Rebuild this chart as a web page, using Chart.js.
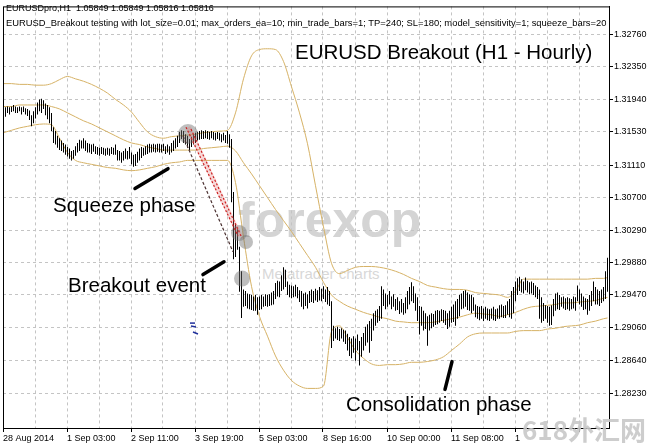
<!DOCTYPE html>
<html><head><meta charset="utf-8">
<script src="https://cdn.jsdelivr.net/npm/chart.js@4.4.0/dist/chart.umd.min.js"></script>
<style>
html,body{margin:0;padding:0;background:#fff;}
#wrap{position:relative;width:648px;height:445px;overflow:hidden;background:#fff;}
#c{position:absolute;left:0;top:0;z-index:1;}
.t{position:absolute;white-space:nowrap;font-family:"Liberation Sans",Arial,sans-serif;line-height:1;z-index:2;color:#000;}
.wm{position:absolute;white-space:nowrap;line-height:1;z-index:0;}
</style></head><body>
<div id="wrap">
<div class="wm" style="left:238px;top:191px;font:bold 50px 'Liberation Sans',Arial,sans-serif;color:#d4d4d4;">forexop</div>
<div class="wm" style="left:262px;top:265px;font:15px 'Liberation Sans',Arial,sans-serif;color:#d8d8d8;">Metatrader charts</div>
<canvas id="c" width="648" height="445"></canvas>
<div class="t" style="left:6px;top:4px;font-size:9px;">EURUSDpro,H1&nbsp; 1.05849 1.05849 1.05816 1.05816</div>
<div class="t" style="left:6px;top:16.5px;font-size:9.4px;line-height:1.3;width:602px;overflow:hidden;">EURUSD_Breakout testing with lot_size=0.01; max_orders_ea=10; min_trade_bars=1; TP=240; SL=180; model_sensitivity=1; squeeze_bars=20</div>
<div class="t" style="left:295px;top:42px;font-size:20.5px;">EURUSD Breakout (H1 - Hourly)</div>
<div class="t" style="left:53px;top:195px;font-size:20.5px;">Squeeze phase</div>
<div class="t" style="left:68px;top:275px;font-size:20.5px;">Breakout event</div>
<div class="t" style="left:346px;top:394px;font-size:20.5px;">Consolidation phase</div>
<div class="wm" style="left:522px;top:410px;font:bold 26px 'Noto Sans CJK SC',sans-serif;color:rgba(200,200,200,0.9);z-index:3;">618外汇网</div>
</div>
<script>
// ---- data (EURUSD H1, 28 Aug - 12 Sep 2014) ----
const xLabels = ["28 Aug 2014","1 Sep 03:00","2 Sep 11:00","3 Sep 19:00","5 Sep 03:00","8 Sep 16:00","10 Sep 00:00","11 Sep 08:00","1"];
const yTicks = [1.32760,1.32350,1.31940,1.31530,1.31110,1.30700,1.30290,1.29880,1.29470,1.29060,1.28640,1.28230];

const highs = [
1.3180,1.3184,1.3185,1.3184,1.3185,1.3187,1.3185,1.3184,1.3185,1.3184,
1.3185,1.3183,1.3182,1.3180,1.3174,1.3179,1.3184,1.3190,1.3194,1.3195,
1.3193,1.3189,1.3187,1.3184,1.3177,1.3159,1.3154,1.3148,1.3145,1.3142,
1.3139,1.3137,1.3134,1.3132,1.3129,1.3130,1.3135,1.3139,1.3143,1.3142,
1.3145,1.3142,1.3139,1.3138,1.3137,1.3138,1.3135,1.3134,1.3133,1.3134,
1.3133,1.3132,1.3133,1.3132,1.3134,1.3133,1.3137,1.3130,1.3129,1.3127,
1.3129,1.3132,1.3129,1.3134,1.3127,1.3124,1.3125,1.3128,1.3132,1.3134,
1.3133,1.3135,1.3137,1.3138,1.3137,1.3138,1.3137,1.3138,1.3138,1.3137,
1.3138,1.3135,1.3137,1.3135,1.3139,1.3142,1.3145,1.3148,1.3153,1.3155,
1.3154,1.3150,1.3148,1.3144,1.3147,1.3150,1.3152,1.3153,1.3154,1.3155,
1.3154,1.3155,1.3154,1.3153,1.3154,1.3153,1.3152,1.3153,1.3152,1.3150,
1.3152,1.3149,1.3154,1.3150,1.3144,1.3077,1.3037,1.3030,1.3008,1.2977,
1.2954,1.2952,1.2949,1.2948,1.2947,1.2945,1.2947,1.2944,1.2945,1.2947,
1.2945,1.2948,1.2947,1.2948,1.2950,1.2952,1.2962,1.2965,1.2964,1.2972,
1.2982,1.2979,1.2964,1.2960,1.2959,1.2958,1.2960,1.2957,1.2953,1.2952,
1.2949,1.2950,1.2948,1.2952,1.2954,1.2952,1.2955,1.2953,1.2957,1.2955,
1.2958,1.2954,1.2957,1.2952,1.2939,1.2908,1.2905,1.2907,1.2904,1.2905,
1.2903,1.2902,1.2898,1.2894,1.2892,1.2895,1.2892,1.2897,1.2889,1.2894,
1.2899,1.2907,1.2910,1.2914,1.2917,1.2924,1.2927,1.2929,1.2933,1.2958,
1.2954,1.2949,1.2947,1.2952,1.2945,1.2948,1.2942,1.2944,1.2939,1.2942,
1.2937,1.2944,1.2952,1.2957,1.2963,1.2958,1.2949,1.2944,1.2933,1.2932,
1.2927,1.2924,1.2920,1.2922,1.2924,1.2923,1.2927,1.2928,1.2927,1.2929,
1.2928,1.2927,1.2924,1.2927,1.2932,1.2935,1.2939,1.2942,1.2947,1.2949,
1.2952,1.2953,1.2950,1.2948,1.2947,1.2944,1.2935,1.2933,1.2932,1.2933,
1.2930,1.2932,1.2930,1.2929,1.2930,1.2932,1.2929,1.2930,1.2934,1.2935,
1.2933,1.2934,1.2939,1.2942,1.2952,1.2957,1.2964,1.2968,1.2970,1.2967,
1.2964,1.2969,1.2965,1.2963,1.2964,1.2962,1.2959,1.2957,1.2954,1.2944,
1.2937,1.2934,1.2933,1.2932,1.2934,1.2942,1.2949,1.2950,1.2947,1.2944,
1.2945,1.2943,1.2944,1.2943,1.2942,1.2945,1.2944,1.2959,1.2954,1.2949,
1.2945,1.2943,1.2942,1.2947,1.2952,1.2964,1.2957,1.2954,1.2952,1.2954,
1.2957,1.2977,1.2994];

const lows = [
1.3168,1.3172,1.3177,1.3175,1.3178,1.3179,1.3177,1.3177,1.3179,1.3175,
1.3178,1.3175,1.3173,1.3168,1.3160,1.3164,1.3170,1.3175,1.3179,1.3177,
1.3182,1.3174,1.3169,1.3164,1.3154,1.3139,1.3137,1.3133,1.3130,1.3129,
1.3127,1.3124,1.3122,1.3119,1.3117,1.3119,1.3123,1.3127,1.3129,1.3132,
1.3132,1.3129,1.3127,1.3127,1.3125,1.3128,1.3125,1.3124,1.3123,1.3125,
1.3124,1.3123,1.3124,1.3123,1.3125,1.3124,1.3124,1.3117,1.3117,1.3114,
1.3117,1.3119,1.3118,1.3119,1.3112,1.3109,1.3110,1.3114,1.3117,1.3120,
1.3123,1.3124,1.3125,1.3127,1.3127,1.3128,1.3127,1.3128,1.3127,1.3127,
1.3129,1.3125,1.3127,1.3124,1.3127,1.3129,1.3132,1.3134,1.3139,1.3144,
1.3139,1.3137,1.3133,1.3130,1.3134,1.3137,1.3139,1.3142,1.3143,1.3144,
1.3144,1.3145,1.3144,1.3143,1.3145,1.3143,1.3142,1.3144,1.3142,1.3140,
1.3142,1.3139,1.3138,1.3133,1.3064,1.2992,1.2995,1.3004,1.2951,1.2918,
1.2932,1.2933,1.2930,1.2929,1.2928,1.2927,1.2927,1.2922,1.2928,1.2929,
1.2932,1.2933,1.2932,1.2933,1.2934,1.2935,1.2942,1.2945,1.2944,1.2952,
1.2954,1.2957,1.2947,1.2944,1.2943,1.2944,1.2945,1.2943,1.2938,1.2932,
1.2929,1.2933,1.2930,1.2937,1.2938,1.2937,1.2940,1.2938,1.2940,1.2939,
1.2942,1.2938,1.2935,1.2933,1.2880,1.2889,1.2892,1.2890,1.2889,1.2892,
1.2888,1.2885,1.2877,1.2870,1.2867,1.2874,1.2864,1.2877,1.2858,1.2869,
1.2877,1.2883,1.2887,1.2874,1.2889,1.2902,1.2908,1.2912,1.2914,1.2917,
1.2933,1.2929,1.2932,1.2935,1.2929,1.2932,1.2927,1.2928,1.2923,1.2925,
1.2922,1.2924,1.2929,1.2935,1.2939,1.2937,1.2927,1.2914,1.2897,1.2908,
1.2902,1.2904,1.2883,1.2902,1.2905,1.2907,1.2909,1.2910,1.2912,1.2914,
1.2912,1.2909,1.2904,1.2907,1.2912,1.2913,1.2908,1.2917,1.2920,1.2929,
1.2930,1.2932,1.2928,1.2927,1.2924,1.2927,1.2919,1.2917,1.2915,1.2917,
1.2914,1.2917,1.2915,1.2914,1.2917,1.2915,1.2914,1.2917,1.2917,1.2919,
1.2918,1.2918,1.2922,1.2919,1.2917,1.2924,1.2939,1.2947,1.2952,1.2950,
1.2949,1.2953,1.2950,1.2948,1.2949,1.2947,1.2944,1.2942,1.2917,1.2912,
1.2914,1.2917,1.2912,1.2908,1.2909,1.2920,1.2927,1.2929,1.2928,1.2932,
1.2930,1.2928,1.2929,1.2927,1.2929,1.2930,1.2927,1.2939,1.2935,1.2932,
1.2928,1.2929,1.2922,1.2927,1.2933,1.2939,1.2935,1.2935,1.2933,1.2937,
1.2939,1.2942,1.2951];

// Bollinger-type bands, sampled every 4 bars (last sample = final bar)
const upperBand = [
1.3214,1.3214,1.3213,1.3213,1.3212,1.3212,1.3214,1.3219,1.3223,1.3220,
1.3217,1.3213,1.3208,1.3202,1.3194,1.3187,1.3178,1.3165,1.3153,1.3147,
1.3145,1.3147,1.3148,1.3149,1.3150,1.3152,1.3153,1.3154,1.3155,1.3177,
1.3220,1.3249,1.3257,1.3258,1.3257,1.3242,1.3210,1.3177,1.3138,1.3085,
1.3033,1.2987,1.2974,1.2978,1.2982,1.2983,1.2983,1.2982,1.2980,1.2977,
1.2973,1.2968,1.2964,1.2959,1.2957,1.2955,1.2954,1.2954,1.2953,1.2950,
1.2949,1.2948,1.2947,1.2944,1.2952,1.2967,1.2967,1.2967,1.2967,1.2967,
1.2967,1.2967,1.2967,1.2967,1.2968,1.2968,1.2969];
const middleBand = [
1.3185,1.3185,1.3187,1.3187,1.3187,1.3187,1.3185,1.3182,1.3177,1.3172,
1.3167,1.3163,1.3158,1.3153,1.3148,1.3143,1.3139,1.3137,1.3134,1.3132,
1.3130,1.3130,1.3130,1.3130,1.3130,1.3132,1.3133,1.3134,1.3135,1.3129,
1.3114,1.3100,1.3085,1.3070,1.3055,1.3041,1.3027,1.3012,1.2997,1.2982,
1.2963,1.2947,1.2939,1.2933,1.2929,1.2925,1.2922,1.2919,1.2917,1.2914,
1.2913,1.2912,1.2912,1.2912,1.2913,1.2915,1.2917,1.2919,1.2922,1.2924,
1.2923,1.2922,1.2920,1.2922,1.2925,1.2929,1.2932,1.2933,1.2934,1.2935,
1.2937,1.2937,1.2938,1.2939,1.2940,1.2943,1.2944];
const lowerBand = [
1.3152,1.3155,1.3158,1.3160,1.3162,1.3163,1.3162,1.3145,1.3127,1.3117,
1.3114,1.3112,1.3110,1.3108,1.3107,1.3105,1.3104,1.3105,1.3107,1.3109,
1.3112,1.3114,1.3115,1.3117,1.3117,1.3117,1.3117,1.3117,1.3117,1.3089,
1.3020,1.2958,1.2920,1.2895,1.2870,1.2852,1.2839,1.2832,1.2829,1.2829,
1.2832,1.2901,1.2908,1.2893,1.2877,1.2867,1.2860,1.2858,1.2859,1.2859,
1.2860,1.2862,1.2862,1.2863,1.2865,1.2869,1.2877,1.2885,1.2894,1.2898,
1.2899,1.2899,1.2899,1.2899,1.2901,1.2902,1.2902,1.2902,1.2904,1.2905,
1.2907,1.2908,1.2909,1.2912,1.2914,1.2917,1.2918];

// annotation anchors in data space: [barIndex, price]
const pointers = [[65.75,1.30815,82.25,1.31065],[99.75,1.29728,110.25,1.29890],[220.75,1.28278,224.25,1.28628]];
const spots = [[92.25,1.31503,10],[117.75,1.30253,8],[121.25,1.30140,7],[119.25,1.29678,8]];
const tradeLines = [[91.25,1.31590,117.25,1.30215],[93.75,1.31565,119.25,1.30190],[89.75,1.31478,114.75,1.30015]];
const blueMarks = [[93.25,1.29115,95.75,1.29115],[93.75,1.29078,96.25,1.29065],[94.75,1.29003,97.25,1.28978]];

const nBars = highs.length;
const bandIdx = upperBand.map((_, k) => (k < upperBand.length - 1 ? 4 * k : nBars - 1));
const xTickVals = Array.from({length: 19}, (_, k) => -0.25 + 16 * k);

const bandColor = '#d6b266';
const mk = arr => arr.map((v, k) => ({x: bandIdx[k], y: v}));

const annot = {
  id: 'annot',
  afterDatasetsDraw(chart) {
    const {ctx, scales: {x, y}} = chart;
    const X = v => x.getPixelForValue(v), Y = p => y.getPixelForValue(p);
    ctx.save();
    spots.forEach(s => {
      ctx.beginPath(); ctx.arc(X(s[0]), Y(s[1]), s[2], 0, Math.PI * 2);
      ctx.fillStyle = 'rgba(110,110,110,0.45)'; ctx.fill();
    });
    ctx.strokeStyle = 'rgba(225,110,110,0.28)'; ctx.lineWidth = 5;
    ctx.beginPath(); ctx.moveTo(X(tradeLines[0][0]) + 2, Y(tradeLines[0][1])); ctx.lineTo(X(tradeLines[0][2]) + 2, Y(tradeLines[0][3])); ctx.stroke();
    tradeLines.forEach((l, k) => {
      ctx.beginPath();
      ctx.strokeStyle = k < 2 ? '#cc2020' : '#4a3030';
      ctx.lineWidth = 1.2;
      ctx.setLineDash(k < 2 ? [2, 2] : [3, 2]);
      ctx.moveTo(X(l[0]), Y(l[1])); ctx.lineTo(X(l[2]), Y(l[3])); ctx.stroke();
    });
    ctx.setLineDash([]);
    ctx.strokeStyle = '#1f2f9a'; ctx.lineWidth = 1.5;
    blueMarks.forEach(l => { ctx.beginPath(); ctx.moveTo(X(l[0]), Y(l[1])); ctx.lineTo(X(l[2]), Y(l[3])); ctx.stroke(); });
    ctx.strokeStyle = '#000'; ctx.lineWidth = 3.5; ctx.lineCap = 'round';
    pointers.forEach(l => { ctx.beginPath(); ctx.moveTo(X(l[0]), Y(l[1])); ctx.lineTo(X(l[2]), Y(l[3])); ctx.stroke(); });
    ctx.restore();
  },
  afterDraw(chart) {
    const {ctx, chartArea: a} = chart;
    ctx.save(); ctx.strokeStyle = '#000'; ctx.lineWidth = 1;
    ctx.strokeRect(a.left + 0.5, a.top + 0.5, a.right - a.left, a.bottom - a.top);
    ctx.restore();
  }
};

Chart.defaults.font.family = "'Liberation Sans', Arial, sans-serif";
Chart.defaults.font.size = 9;
Chart.defaults.color = '#000';

new Chart(document.getElementById('c'), {
  type: 'bar',
  data: {
    datasets: [
      {type: 'line', data: mk(upperBand), borderColor: bandColor, borderWidth: 1, pointRadius: 0, cubicInterpolationMode: 'monotone', order: 2},
      {type: 'line', data: mk(middleBand), borderColor: bandColor, borderWidth: 1, pointRadius: 0, cubicInterpolationMode: 'monotone', order: 2},
      {type: 'line', data: mk(lowerBand), borderColor: bandColor, borderWidth: 1, pointRadius: 0, cubicInterpolationMode: 'monotone', order: 2},
      {type: 'bar', data: highs.map((h, i) => ({x: i, y: [lows[i], h]})), backgroundColor: '#000', borderWidth: 0, inflateAmount: 0, barThickness: 1, grouped: false, order: 1}
    ]
  },
  options: {
    responsive: false, animation: false, devicePixelRatio: 1,
    layout: {padding: {left: 3, top: 2, right: 0, bottom: 0}},
    plugins: {legend: {display: false}, tooltip: {enabled: false}},
    scales: {
      x: {
        type: 'linear', min: -0.25, max: nBars - 0.25, offset: false,
        afterBuildTicks: s => { s.ticks = xTickVals.map(v => ({value: v})); },
        afterFit: s => { s.height = 17; },
        grid: {color: '#c4c4c4', lineWidth: 1, tickLength: 4, offset: false,
               tickColor: c => (c.index % 2 === 0 ? '#000' : 'rgba(0,0,0,0)'), tickBorderDash: []},
        border: {display: true, color: '#000', dash: [3, 3]},
        ticks: {autoSkip: false, maxRotation: 0, align: 'start', padding: 1,
                callback: (v, i) => (i % 2 === 0 ? (xLabels[i / 2] || '') : '')}
      },
      y: {
        position: 'right', min: 1.2779, max: 1.33115,
        afterBuildTicks: s => { s.ticks = yTicks.map(v => ({value: v})); },
        afterFit: s => { s.width = 39; },
        grid: {color: '#c4c4c4', lineWidth: 1, tickLength: 4, tickColor: '#000', tickBorderDash: []},
        border: {display: true, color: '#000', dash: [3, 3]},
        ticks: {autoSkip: false, padding: 1, callback: v => Number(v).toFixed(5)}
      }
    }
  },
  plugins: [annot]
});
</script>
</body></html>
